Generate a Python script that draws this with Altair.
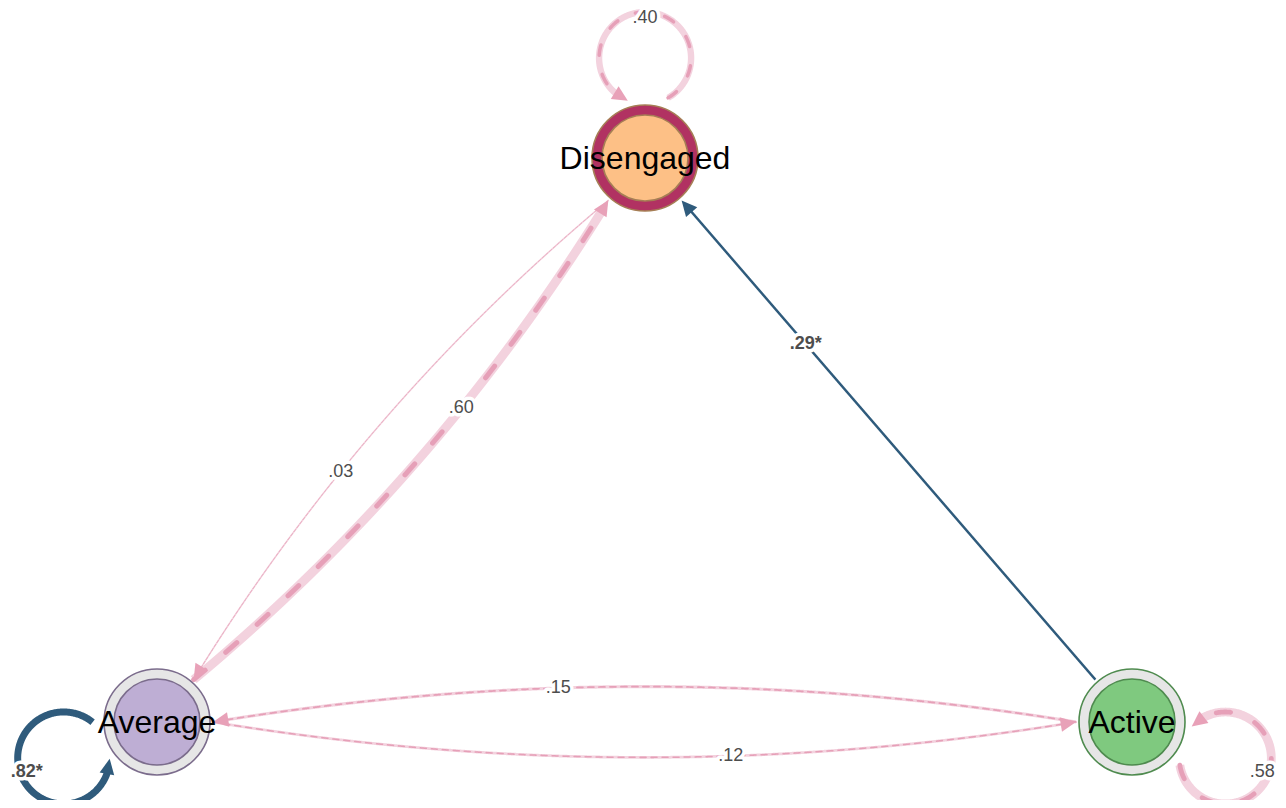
import numpy as np
import pandas as pd
import altair as alt

# ---------------- data ----------------
node_names = ["Disengaged", "Average", "Active"]

edge_from = ["Disengaged", "Average", "Disengaged", "Average", "Active", "Active", "Average", "Active"]
edge_to = ["Disengaged", "Disengaged", "Average", "Average", "Disengaged", "Average", "Active", "Active"]
edge_weight = [0.40, 0.60, 0.03, 0.82, 0.29, 0.15, 0.12, 0.58]
edge_label = [".40", ".60", ".03", ".82*", ".29*", ".15", ".12", ".58"]
edge_significant = [False, False, False, True, True, False, False, False]

# ---------------- layout / style ----------------
node_x = [645, 157, 1132]
node_y = [158, 722, 722]
node_fill = ["#FDC086", "#BEAED4", "#7FC97F"]
node_ring = ["#B13262", "#E6E6E6", "#E6E6E6"]
node_border = ["#A67E55", "#7B6C8C", "#4F8B4F"]

R_OUT, R_IN = 53.0, 43.0
LOOP_D, LOOP_R = 100.0, 46.0
UNIT = 9.5                       # arrow half-size (px)
ARROW_PATH = "M0,-1L0.78,0.62L-0.78,0.62Z"
SIG_COLOR = "#2F5B7C"
BAND_COLOR = "#F3D2DE"
DASH_COLOR = "#E6A0B8"
ARROW_PINK = "#E8A1B8"

pos = {n: np.array([x, y], float) for n, x, y in zip(node_names, node_x, node_y)}
centroid = np.array([np.mean(node_x), np.mean(node_y)])

X = alt.X("x:Q", scale=alt.Scale(domain=[8, 1278]), axis=None)
Y = alt.Y("y:Q", scale=alt.Scale(domain=[800, 8]), axis=None)


def bez(P0, C, P2, t):
    t = np.asarray(t)[:, None]
    return (1 - t) ** 2 * P0 + 2 * (1 - t) * t * C + t ** 2 * P2


layers_band, layers_dash, layers_arrow = [], [], []
lab_rows = []

pairs = set(zip(edge_from, edge_to))

for f, t, w, lab, sig in zip(edge_from, edge_to, edge_weight, edge_label, edge_significant):
    if f == t:
        P = pos[f]
        u = P - centroid
        u = u / np.hypot(*u)
        LC = P + LOOP_D * u
        th0 = np.degrees(np.arctan2(-u[1], -u[0]))
        th = np.radians(np.linspace(th0 - 30, th0 - 360 + 38, 300))
        pts = LC + LOOP_R * np.column_stack([np.cos(th), np.sin(th)])
        tip_a = np.radians(th0 - 360 + 22)
        tail_a = np.radians(th0 - 360 + 41)
        tip = LC + LOOP_R * np.array([np.cos(tip_a), np.sin(tip_a)])
        tail = LC + LOOP_R * np.array([np.cos(tail_a), np.sin(tail_a)])
        la = np.radians(th0 + 180)
        lpos = LC + LOOP_R * 0.86 * np.array([np.cos(la), np.sin(la)])
    else:
        P0, P2 = pos[f], pos[t]
        L = np.hypot(*(P2 - P0))
        d = (P2 - P0) / L
        right = np.array([-d[1], d[0]])
        curved = (t, f) in pairs
        S = P0 + d * (R_OUT + 3)
        E = P2 - d * (R_OUT + 3)
        Lb = np.hypot(*(E - S))
        h = 0.082 * Lb if curved else 0.0
        C = (S + E) / 2 + right * h
        tt = np.linspace(0, 1, 3000)
        allp = bez(S, C, E, tt)
        de = np.hypot(*(allp - E).T)
        pts = allp[de > 1.3 * UNIT]
        tip = E
        tail = allp[np.argmin(np.abs(de - 1.6 * UNIT))]
        lpos = bez(S, C, E, [0.6 if curved else 0.7])[0]

    df = pd.DataFrame({"x": pts[:, 0], "y": pts[:, 1], "i": np.arange(len(pts))})
    dvec = (tip - tail) / np.hypot(*(tip - tail))
    center = tip - dvec * UNIT
    ang = np.degrees(np.arctan2(dvec[0], -dvec[1])) % 360

    if sig:
        sw = 8.5 * w
        layers_dash.append(
            alt.Chart(df).mark_line(color=SIG_COLOR, strokeWidth=sw, strokeCap="butt",
                                    strokeJoin="round").encode(x=X, y=Y, order="i:Q"))
        acol = SIG_COLOR
    else:
        wb = min(9.0, 1.2 + 13 * w)
        wd = 0.55 * wb
        layers_band.append(
            alt.Chart(df).mark_line(color=BAND_COLOR, strokeWidth=wb, strokeCap="butt",
                                    strokeJoin="round").encode(x=X, y=Y, order="i:Q"))
        if w < 0.05:
            dash = [3, 2]
            wd = 0.9
        elif w < 0.2:
            dash = [6, 5]
        else:
            dash = [3 * wd, 5.5 * wd]
        layers_dash.append(
            alt.Chart(df).mark_line(color=DASH_COLOR, strokeWidth=wd, strokeCap="round",
                                    strokeDash=dash, strokeJoin="round").encode(x=X, y=Y, order="i:Q"))
        acol = ARROW_PINK

    adf = pd.DataFrame({"x": [center[0]], "y": [center[1]], "ang": [ang]})
    layers_arrow.append(
        alt.Chart(adf).mark_point(shape=ARROW_PATH, filled=True, size=4 * UNIT ** 2,
                                  color=acol, opacity=1, strokeWidth=0)
        .encode(x=X, y=Y, angle=alt.Angle("ang:Q", scale=None)))
    lab_rows.append({"x": lpos[0], "y": lpos[1], "label": lab, "sig": sig})

labels = pd.DataFrame(lab_rows)
lab_norm = labels[~labels["sig"]]
lab_bold = labels[labels["sig"]]


def text_layers(df, weight):
    base = alt.Chart(df)
    halo = base.mark_text(fontSize=18, font="Liberation Sans", fontWeight=weight, color="white",
                          stroke="white", strokeWidth=7, strokeJoin="round",
                          baseline="middle", align="center").encode(x=X, y=Y, text="label:N")
    txt = base.mark_text(fontSize=18, font="Liberation Sans", fontWeight=weight, color="#4D4D4D",
                         baseline="middle", align="center").encode(x=X, y=Y, text="label:N")
    return [halo, txt]


nodes = pd.DataFrame({"x": node_x, "y": node_y, "name": node_names,
                      "fill": node_fill, "ring": node_ring, "border": node_border})

outer = alt.Chart(nodes).mark_circle(size=4 * R_OUT ** 2, opacity=1, strokeWidth=1.6).encode(
    x=X, y=Y, fill=alt.Fill("ring:N", scale=None), stroke=alt.Stroke("border:N", scale=None))
inner = alt.Chart(nodes).mark_circle(size=4 * R_IN ** 2, opacity=1, strokeWidth=1.6).encode(
    x=X, y=Y, fill=alt.Fill("fill:N", scale=None), stroke=alt.Stroke("border:N", scale=None))
node_text = alt.Chart(nodes).mark_text(fontSize=32, font="Liberation Sans", color="black",
                                       baseline="middle", align="center", dy=1).encode(
    x=X, y=Y, text="name:N")

all_layers = (layers_band + layers_dash + layers_arrow
              + text_layers(lab_norm, "normal") + text_layers(lab_bold, "bold")
              + [outer, inner, node_text])

chart = alt.layer(*all_layers).properties(
    width=1270, height=792, padding=0,
    autosize=alt.AutoSizeParams(type="none"),
).configure(background="white").configure_view(strokeWidth=0, stroke=None)

chart.save("out.html", embed_options={"renderer": "svg", "actions": False})
